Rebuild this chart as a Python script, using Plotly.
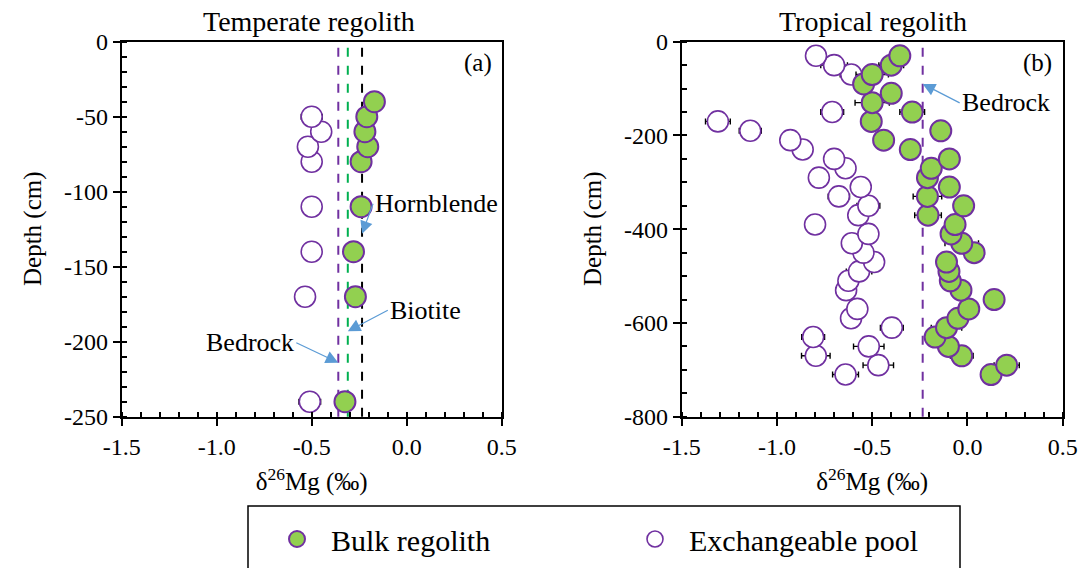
import plotly.graph_objects as go

# ---------------- data ----------------
# (a) Temperate regolith
bulk_depth_a = [-40, -50, -60, -70, -80, -110, -140, -170, -240]
bulk_d26_a = [-0.17, -0.21, -0.22, -0.205, -0.24, -0.24, -0.28, -0.27, -0.325]
bulk_err_a = [0.03, 0.03, 0.03, 0.03, 0.03, 0.03, 0.03, 0.03, 0.03]

exch_depth_a = [-50, -60, -70, -80, -110, -140, -170, -240]
exch_d26_a = [-0.50, -0.45, -0.52, -0.50, -0.50, -0.50, -0.535, -0.51]
exch_err_a = [0.055, 0.03, 0.03, 0.03, 0.03, 0.03, 0.03, 0.057]

bedrock_a = -0.36
biotite_a = -0.31
hornblende_a = -0.235

# (b) Tropical regolith
bulk_depth_b = [-30, -50, -70, -90, -110, -130, -150, -170, -190, -210, -230, -250,
                -270, -290, -310, -330, -350, -370, -390, -410, -430, -450, -470, -490,
                -510, -530, -550, -570, -590, -610, -630, -650, -670, -690, -710]
bulk_d26_b = [-0.355, -0.40, -0.50, -0.545, -0.40, -0.50, -0.29, -0.505, -0.14, -0.44,
              -0.30, -0.095, -0.19, -0.21, -0.095, -0.21, -0.02, -0.207, -0.065, -0.086,
              -0.03, 0.035, -0.11, -0.097, -0.09, -0.034, 0.14, 0.007, -0.05, -0.11,
              -0.17, -0.10, -0.03, 0.206, 0.124]
bulk_err_b = [0.03, 0.065, 0.085, 0.03, 0.03, 0.09, 0.065, 0.03, 0.03, 0.03,
              0.03, 0.03, 0.03, 0.03, 0.03, 0.075, 0.03, 0.07, 0.03, 0.03,
              0.088, 0.03, 0.03, 0.03, 0.03, 0.03, 0.03, 0.03, 0.03, 0.08,
              0.03, 0.03, 0.06, 0.066, 0.03]

exch_depth_b = [-30, -50, -70, -150, -170, -190, -210, -230, -250, -270, -290, -310,
                -330, -350, -370, -390, -410, -430, -450, -470, -490, -510, -530, -570,
                -590, -610, -630, -650, -670, -690, -710]
exch_d26_b = [-0.795, -0.70, -0.61, -0.71, -1.31, -1.14, -0.93, -0.865, -0.70, -0.64,
              -0.78, -0.56, -0.675, -0.52, -0.573, -0.80, -0.52, -0.607, -0.546, -0.49,
              -0.569, -0.625, -0.637, -0.578, -0.611, -0.397, -0.81, -0.518, -0.796,
              -0.468, -0.64]
exch_err_b = [0.03, 0.07, 0.058, 0.06, 0.065, 0.058, 0.03, 0.03, 0.03, 0.03,
              0.03, 0.03, 0.056, 0.06, 0.03, 0.03, 0.03, 0.03, 0.03, 0.03,
              0.067, 0.03, 0.052, 0.03, 0.03, 0.06, 0.06, 0.08, 0.075, 0.08, 0.068]

bedrock_b = -0.235

x_tick_vals = [-1.5, -1.0, -0.5, 0.0, 0.5]
x_tick_text = ["-1.5", "-1.0", "-0.5", "0.0", "0.5"]
y_tick_vals_a = [0, -50, -100, -150, -200, -250]
y_tick_text_a = ["0", "-50", "-100", "-150", "-200", "-250"]
y_tick_vals_b = [0, -200, -400, -600, -800]
y_tick_text_b = ["0", "-200", "-400", "-600", "-800"]

# ---------------- style ----------------
FONT = "Liberation Serif"
GREEN = "#92D050"
PURPLE = "#7030A0"
ARROW = "#5B9BD5"
MSIZE = 21

W, H = 1088, 568
def px(x):
    return x / W
def py(y):
    return 1 - y / H

def f(size):
    return dict(family=FONT, size=size, color="black")

fig = go.Figure()

def add_pair(xax, yax, bd, bx, be, ed, ex, ee, show):
    fig.add_trace(go.Scatter(
        x=ex[::-1], y=ed[::-1], mode="markers", name="Exchangeable pool",
        xaxis=xax, yaxis=yax, showlegend=show, legendrank=2,
        marker=dict(size=MSIZE, color="white", line=dict(color=PURPLE, width=1.6)),
        error_x=dict(type="data", array=ee[::-1], color="black", thickness=1.4, width=3),
    ))
    fig.add_trace(go.Scatter(
        x=bx[::-1], y=bd[::-1], mode="markers", name="Bulk regolith",
        xaxis=xax, yaxis=yax, showlegend=show, legendrank=1,
        marker=dict(size=MSIZE, color=GREEN, line=dict(color=PURPLE, width=2)),
        error_x=dict(type="data", array=be[::-1], color="black", thickness=1.4, width=3),
    ))

add_pair("x", "y", bulk_depth_a, bulk_d26_a, bulk_err_a, exch_depth_a, exch_d26_a, exch_err_a, True)
add_pair("x2", "y2", bulk_depth_b, bulk_d26_b, bulk_err_b, exch_depth_b, exch_d26_b, exch_err_b, False)

def axis(domain, anchor, rng, tv, tt, minor_dtick, title=None):
    d = dict(
        domain=domain, anchor=anchor, range=rng, tickvals=tv, ticktext=tt,
        showline=True, linecolor="black", linewidth=2, mirror=True,
        showgrid=False, zeroline=False, ticks="outside", ticklen=7, tickwidth=2,
        tickcolor="black", automargin=False, tickfont=f(24),
        minor=dict(dtick=minor_dtick, tick0=0, ticks="inside", ticklen=5, tickwidth=1.5, tickcolor="black"),
    )
    if title:
        d["title"] = dict(text=title, standoff=14, font=f(25))
    return d

xdom_a = [px(121.7), px(501.7)]
xdom_b = [px(681.7), px(1062.7)]
ydom = [py(416.7), py(41.7)]

xtitle = "δ<sup>26</sup>Mg (‰)"
fig.update_layout(
    template="none",
    xaxis=axis(xdom_a, "y", [-1.5, 0.5], x_tick_vals, x_tick_text, 0.1, xtitle),
    yaxis=axis(ydom, "x", [-250, 0], y_tick_vals_a, y_tick_text_a, 10),
    xaxis2=axis(xdom_b, "y2", [-1.5, 0.5], x_tick_vals, x_tick_text, 0.1, xtitle),
    yaxis2=axis(ydom, "x2", [-800, 0], y_tick_vals_b, y_tick_text_b, 50),
    width=W, height=H,
    margin=dict(l=0, r=0, t=0, b=0),
    plot_bgcolor="white", paper_bgcolor="white",
    font=f(20),
    legend=dict(orientation="h", x=px(263), xanchor="left", y=py(539), yanchor="middle",
                font=f(30), itemwidth=58, entrywidth=285,
                bgcolor="rgba(0,0,0,0)", borderwidth=0),
)

# reference dashed lines
def vline(xref, val, color):
    fig.add_shape(type="line", xref=xref, yref="y domain" if xref == "x" else "y2 domain",
                  x0=val, x1=val, y0=0, y1=1, layer="below",
                  line=dict(color=color, width=2, dash="dash"))

vline("x", bedrock_a, PURPLE)
vline("x", biotite_a, "#00B050")
vline("x", hornblende_a, "black")
vline("x2", bedrock_b, PURPLE)

# legend box
fig.add_shape(type="rect", xref="paper", yref="paper", x0=px(248), x1=px(960), y0=py(600), y1=py(506),
              line=dict(color="black", width=1.5), fillcolor="rgba(0,0,0,0)")

def label(text, x, y, size=25, angle=0):
    fig.add_annotation(text=text, x=px(x), y=py(y), xref="paper", yref="paper", showarrow=False,
                       xanchor="center", yanchor="middle", textangle=angle, font=f(size))

# panel titles, panel letters and y-axis titles
label("Temperate regolith", 309, 22, 28)
label("Tropical regolith", 873, 21, 28)
label("(a)", 478, 63, 25)
label("(b)", 1037, 63, 25)
label("Depth (cm)", 33, 229, 25, -90)
label("Depth (cm)", 593, 229, 25, -90)

# labelled arrows pointing to the reference lines
def arrow_label(text, xr, yr, x, y, ax, ay, xanchor):
    fig.add_annotation(text=text, x=x, y=y, xref=xr, yref=yr, ax=ax, ay=ay, showarrow=True,
                       xanchor=xanchor, yanchor="middle", font=f(26),
                       arrowhead=2, arrowsize=2.1, arrowwidth=1.2, arrowcolor=ARROW)

arrow_label("Hornblende", "x", "y", hornblende_a, -128, 11, -30, "left")
arrow_label("Biotite", "x", "y", biotite_a, -193, 40, -21, "left")
arrow_label("Bedrock", "x", "y", bedrock_a, -214, -42, -20, "right")
arrow_label("Bedrock", "x2", "y2", bedrock_b, -90, 37, 19, "left")

fig.write_html("out.html")
